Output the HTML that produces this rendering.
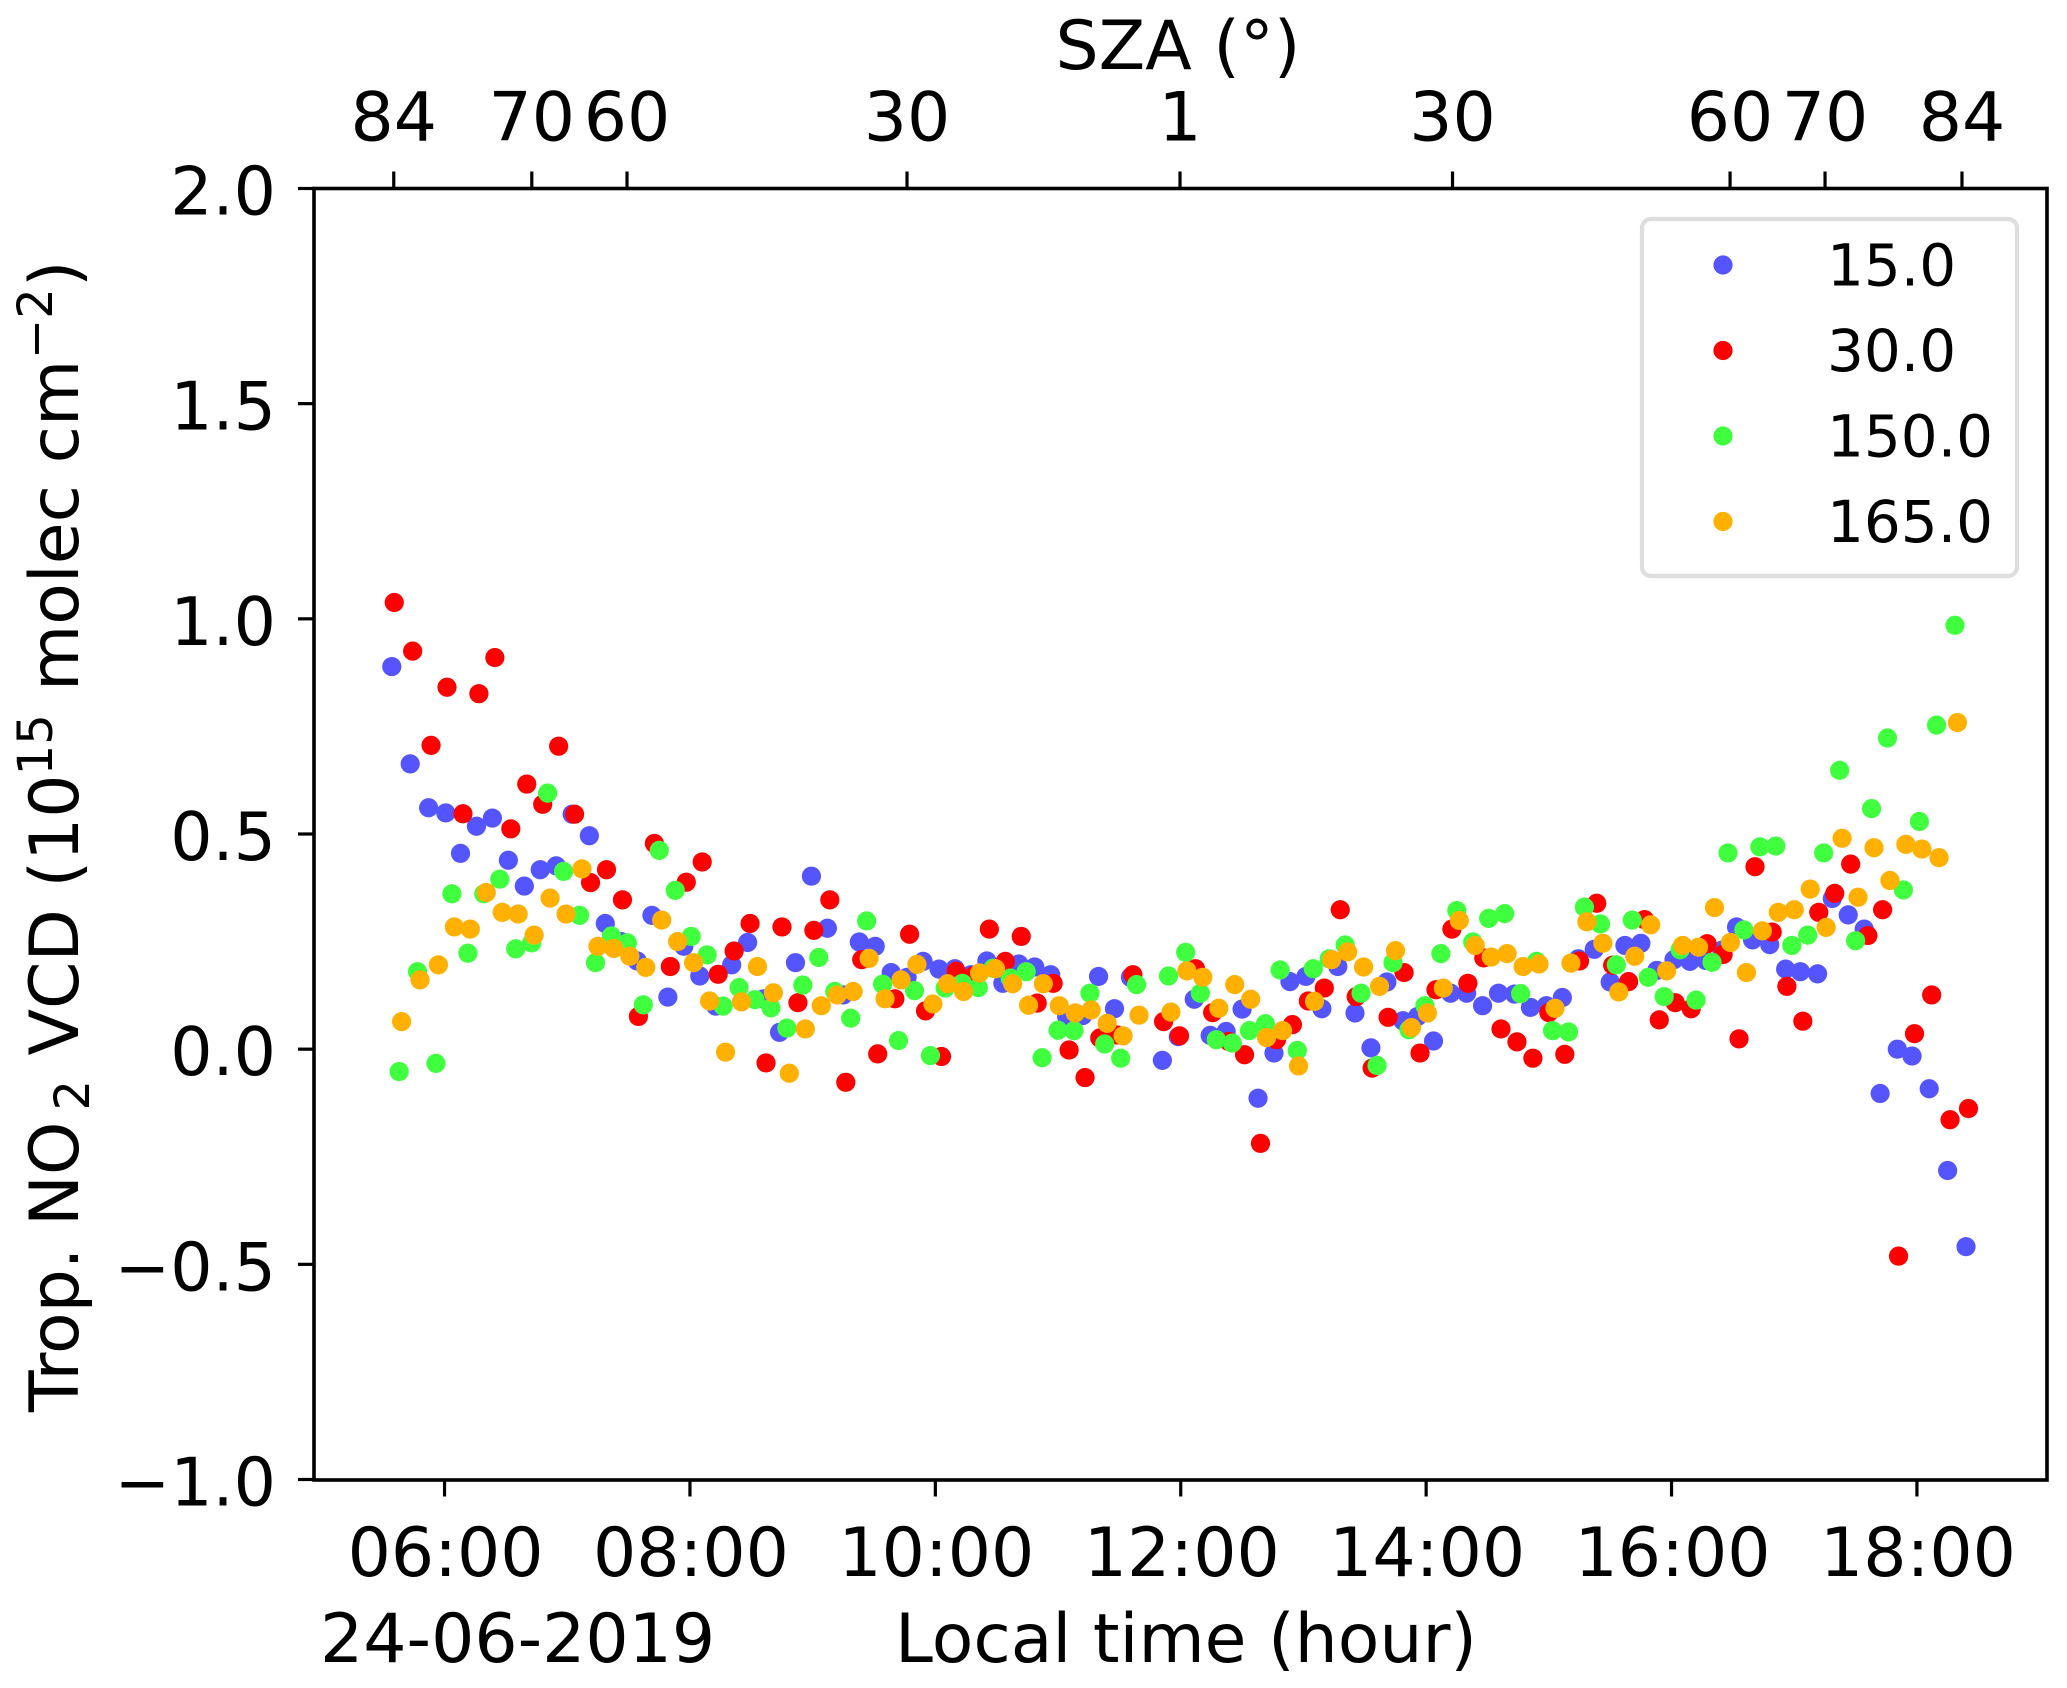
<!DOCTYPE html>
<html lang="en">
<head>
<meta charset="utf-8">
<title>Tropospheric NO2 VCD by local time</title>
<style>
html,body{margin:0;padding:0;background:#fff;}
svg{display:block;font-family:"DejaVu Sans","Liberation Sans",sans-serif;fill:#000;}
</style>
</head>
<body>
<svg id="chart" xmlns="http://www.w3.org/2000/svg" width="2067" height="1688" viewBox="0 0 2067 1688">
  <rect x="0" y="0" width="2067" height="1688" fill="#fff"/>
  <g id="markers"></g>
  <g id="ticks"></g>
  <rect x="314" y="188.5" width="1733" height="1291.5" fill="none" stroke="#000" stroke-width="3.6"/>
  <text x="1178" y="69" font-size="68" text-anchor="middle">SZA (°)</text>
  <text transform="translate(78,1412) rotate(-90)" font-size="68"><tspan x="0" y="0">Trop. NO</tspan><tspan x="301.5" y="11" font-size="48">2</tspan><tspan x="356.5" y="0">VCD (10</tspan><tspan x="636.7" y="-26" font-size="48">15</tspan><tspan x="721" y="0">molec cm</tspan><tspan x="1053" y="-26" font-size="48">−2</tspan><tspan x="1125" y="0">)</tspan></text>
  <text x="320" y="1662" font-size="68">24-06-2019</text>
  <text x="1186" y="1662" font-size="68" text-anchor="middle">Local time (hour)</text>
  <g>
    <rect x="1642" y="219" width="375" height="357" rx="9" ry="9" fill="#fff" stroke="#dedede" stroke-width="4.2"/>
    <g id="legend-items"></g>
  </g>
</svg>
<script>
// Series data: local time (hour) and VCD (10^15 molec cm-2)
const blueHours = [5.57,5.72,5.87,6.01,6.13,6.26,6.39,6.52,6.65,6.78,6.91,7.04,7.18,7.31,7.44,7.57,7.69,7.82,7.95,8.08,8.21,8.34,8.47,8.60,8.73,8.86,8.99,9.12,9.25,9.38,9.51,9.64,9.77,9.90,10.03,10.16,10.29,10.42,10.55,10.68,10.81,10.94,11.07,11.20,11.33,11.46,11.59,11.85,11.98,12.11,12.24,12.37,12.50,12.63,12.76,12.89,13.02,13.15,13.28,13.42,13.55,13.68,13.81,13.93,14.06,14.20,14.33,14.46,14.59,14.72,14.85,14.98,15.11,15.24,15.37,15.50,15.62,15.75,15.88,16.02,16.15,16.28,16.41,16.53,16.66,16.80,16.93,17.05,17.19,17.31,17.44,17.57,17.70,17.84,17.96,18.10,18.25,18.40];
const blueValues = [0.889,0.663,0.561,0.549,0.455,0.518,0.537,0.439,0.379,0.417,0.426,0.546,0.496,0.292,0.25,0.205,0.311,0.121,0.239,0.170,0.10,0.196,0.248,0.117,0.039,0.201,0.402,0.281,0.126,0.249,0.239,0.178,0.167,0.204,0.186,0.187,0.173,0.205,0.153,0.198,0.191,0.173,0.076,0.078,0.169,0.094,0.167,-0.026,0.029,0.116,0.032,0.041,0.093,-0.114,-0.009,0.157,0.169,0.094,0.192,0.084,0.003,0.156,0.066,0.076,0.019,0.130,0.130,0.101,0.130,0.128,0.097,0.101,0.120,0.210,0.232,0.156,0.241,0.246,0.183,0.208,0.204,0.206,0.23,0.284,0.254,0.243,0.186,0.180,0.175,0.350,0.312,0.279,-0.103,0.0,-0.016,-0.092,-0.282,-0.459];

const redHours = [5.59,5.74,5.89,6.02,6.15,6.28,6.41,6.54,6.67,6.80,6.93,7.06,7.19,7.32,7.45,7.58,7.71,7.84,7.97,8.10,8.23,8.36,8.49,8.62,8.75,8.88,9.01,9.14,9.27,9.40,9.53,9.67,9.79,9.92,10.05,10.17,10.31,10.44,10.57,10.70,10.83,10.96,11.09,11.22,11.34,11.48,11.61,11.86,11.99,12.12,12.26,12.39,12.52,12.65,12.78,12.91,13.04,13.17,13.30,13.43,13.56,13.69,13.82,13.95,14.08,14.21,14.34,14.47,14.61,14.74,14.87,15.00,15.13,15.25,15.39,15.52,15.65,15.78,15.90,16.03,16.16,16.29,16.42,16.55,16.68,16.82,16.94,17.07,17.20,17.33,17.46,17.60,17.72,17.85,17.98,18.12,18.27,18.42];
const redValues = [1.038,0.925,0.706,0.841,0.547,0.826,0.910,0.512,0.616,0.569,0.704,0.546,0.387,0.417,0.347,0.076,0.478,0.192,0.388,0.435,0.174,0.228,0.292,-0.032,0.284,0.108,0.276,0.347,-0.077,0.208,-0.011,0.117,0.267,0.089,-0.017,0.181,0.17,0.279,0.204,0.262,0.107,0.153,-0.002,-0.066,0.026,0.033,0.173,0.064,0.031,0.187,0.085,0.018,-0.013,-0.219,0.022,0.057,0.112,0.142,0.324,0.122,-0.044,0.074,0.178,-0.009,0.138,0.279,0.153,0.212,0.047,0.017,-0.021,0.085,-0.012,0.205,0.339,0.195,0.157,0.301,0.068,0.108,0.094,0.245,0.22,0.024,0.424,0.272,0.146,0.065,0.318,0.362,0.430,0.264,0.324,-0.481,0.036,0.126,-0.164,-0.138];

const greenHours = [5.63,5.78,5.93,6.06,6.19,6.32,6.45,6.58,6.71,6.84,6.97,7.10,7.23,7.36,7.49,7.62,7.75,7.88,8.01,8.14,8.27,8.40,8.53,8.66,8.79,8.92,9.05,9.18,9.31,9.44,9.57,9.70,9.83,9.96,10.08,10.22,10.35,10.47,10.61,10.74,10.87,11.00,11.13,11.26,11.38,11.51,11.64,11.90,12.04,12.16,12.29,12.42,12.56,12.69,12.81,12.95,13.08,13.21,13.34,13.47,13.60,13.73,13.86,13.99,14.12,14.25,14.38,14.51,14.64,14.77,14.90,15.03,15.16,15.29,15.42,15.55,15.68,15.81,15.94,16.07,16.20,16.33,16.46,16.59,16.72,16.85,16.98,17.11,17.24,17.37,17.50,17.63,17.76,17.89,18.02,18.16,18.31];
const greenValues = [-0.052,0.180,-0.033,0.361,0.223,0.361,0.395,0.233,0.247,0.595,0.413,0.311,0.201,0.263,0.247,0.103,0.462,0.369,0.262,0.219,0.100,0.143,0.115,0.096,0.049,0.149,0.213,0.134,0.072,0.298,0.151,0.020,0.136,-0.015,0.142,0.153,0.143,0.188,0.165,0.180,-0.020,0.044,0.043,0.130,0.012,-0.021,0.150,0.170,0.225,0.130,0.022,0.014,0.043,0.059,0.184,-0.003,0.187,0.210,0.242,0.130,-0.038,0.201,0.045,0.101,0.222,0.322,0.249,0.304,0.315,0.129,0.204,0.043,0.040,0.330,0.291,0.196,0.300,0.167,0.122,0.231,0.114,0.202,0.456,0.277,0.470,0.472,0.241,0.265,0.456,0.648,0.252,0.559,0.723,0.370,0.529,0.753,0.985];

const orangeHours = [5.65,5.80,5.95,6.08,6.21,6.34,6.47,6.60,6.73,6.86,6.99,7.12,7.25,7.38,7.51,7.64,7.77,7.90,8.03,8.16,8.29,8.42,8.55,8.68,8.81,8.94,9.07,9.20,9.33,9.46,9.59,9.72,9.85,9.98,10.10,10.23,10.36,10.49,10.63,10.76,10.88,11.01,11.14,11.27,11.40,11.53,11.66,11.92,12.05,12.18,12.31,12.44,12.57,12.70,12.83,12.96,13.09,13.23,13.36,13.49,13.62,13.75,13.88,14.01,14.14,14.27,14.40,14.53,14.66,14.79,14.92,15.05,15.18,15.31,15.44,15.57,15.70,15.83,15.96,16.09,16.22,16.35,16.48,16.61,16.74,16.87,17.00,17.13,17.26,17.39,17.52,17.65,17.78,17.91,18.04,18.18,18.33];
const orangeValues = [0.064,0.161,0.196,0.284,0.279,0.364,0.318,0.314,0.265,0.351,0.314,0.419,0.239,0.234,0.216,0.190,0.300,0.250,0.201,0.112,-0.007,0.110,0.192,0.131,-0.056,0.047,0.101,0.126,0.134,0.211,0.117,0.161,0.197,0.105,0.152,0.134,0.177,0.187,0.152,0.102,0.152,0.101,0.084,0.091,0.060,0.031,0.079,0.086,0.182,0.167,0.095,0.150,0.116,0.027,0.043,-0.039,0.111,0.208,0.226,0.191,0.146,0.229,0.050,0.084,0.142,0.299,0.241,0.214,0.222,0.192,0.198,0.095,0.200,0.296,0.246,0.133,0.216,0.289,0.182,0.241,0.237,0.329,0.248,0.178,0.275,0.318,0.324,0.372,0.283,0.490,0.353,0.468,0.392,0.476,0.465,0.445,0.759];

const seriesLabels = ["15.0","30.0","150.0","165.0"];
const xTickHours = [6,8,10,12,14,16,18];
const xTickLabels = ["06:00","08:00","10:00","12:00","14:00","16:00","18:00"];
const yTickValues = [2.0,1.5,1.0,0.5,0.0,-0.5,-1.0];
const yTickLabels = ["2.0","1.5","1.0","0.5","0.0","−0.5","−1.0"];
const szaTickHours = [5.586,6.711,7.487,9.769,11.994,14.215,16.477,17.251,18.367];
const szaTickLabels = ["84","70","60","30","1","30","60","70","84"];

const NS = "http://www.w3.org/2000/svg";
const plot = {left:314,right:2047,top:188.5,bottom:1479.5};
const xDomain = [4.936,19.06];
const yDomain = [-1,2];
function xScale(h){return plot.left+(h-xDomain[0])/(xDomain[1]-xDomain[0])*(plot.right-plot.left);}
function yScale(v){return plot.bottom-(v-yDomain[0])/(yDomain[1]-yDomain[0])*(plot.bottom-plot.top);}
const markerGroup = document.getElementById("markers");
const tickGroup = document.getElementById("ticks");
const legendGroup = document.getElementById("legend-items");

function drawSeries(hours,values,color,label){
  for(let i=0;i<hours.length;i++){
    const c=document.createElementNS(NS,"circle");
    c.setAttribute("cx",xScale(hours[i]));
    c.setAttribute("cy",yScale(values[i]));
    c.setAttribute("r",9.6);
    c.setAttribute("fill",color);
    
    
    markerGroup.appendChild(c);
  }
}
drawSeries(blueHours,blueValues,"#5555ff",seriesLabels[0]);
drawSeries(redHours,redValues,"#ff0000",seriesLabels[1]);
drawSeries(greenHours,greenValues,"#3fff3f",seriesLabels[2]);
drawSeries(orangeHours,orangeValues,"#ffb000",seriesLabels[3]);

function tickLine(x1,y1,x2,y2,name){
  const l=document.createElementNS(NS,"line");
  l.setAttribute("x1",x1);l.setAttribute("y1",y1);l.setAttribute("x2",x2);l.setAttribute("y2",y2);
  l.setAttribute("stroke","#000");l.setAttribute("stroke-width",3.2);
  
  
  tickGroup.appendChild(l);
}
function tickText(x,y,str,anchor,name,size){
  const t=document.createElementNS(NS,"text");
  t.setAttribute("x",x);t.setAttribute("y",y);
  t.setAttribute("font-size",size);t.setAttribute("text-anchor",anchor);
  t.textContent=str;
  
  
  tickGroup.appendChild(t);
}
xTickHours.forEach(function(h,i){
  tickLine(xScale(h),plot.bottom,xScale(h),plot.bottom+17,"x-tick");
  tickText(xScale(h)+1,1576,xTickLabels[i],"middle","x-tick-label",68);
});
yTickValues.forEach(function(v,i){
  tickLine(plot.left-16,yScale(v),plot.left,yScale(v),"y-tick");
  tickText(276,yScale(v)+26,yTickLabels[i],"end","y-tick-label",66.5);
});
szaTickHours.forEach(function(h,i){
  tickLine(xScale(h),plot.top-17,xScale(h),plot.top,"sza-tick");
  tickText(xScale(h),140.5,szaTickLabels[i],"middle","sza-tick-label",68);
});

const legendColors = ["#5555ff","#ff0000","#3fff3f","#ffb000"];
seriesLabels.forEach(function(label,i){
  const yRow=265+i*85.5;
  const c=document.createElementNS(NS,"circle");
  c.setAttribute("cx",1723);c.setAttribute("cy",yRow);c.setAttribute("r",9.6);
  c.setAttribute("fill",legendColors[i]);
  
  
  legendGroup.appendChild(c);
  const t=document.createElementNS(NS,"text");
  t.setAttribute("x",1827);t.setAttribute("y",yRow+20.5);t.setAttribute("font-size",58);
  t.textContent=label;
  
  
  legendGroup.appendChild(t);
});
</script>
</body>
</html>
